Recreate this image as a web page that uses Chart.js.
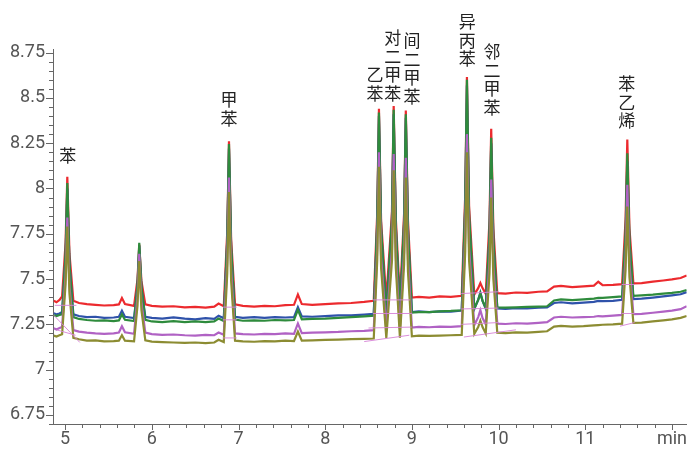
<!DOCTYPE html>
<html lang="zh">
<head>
  <meta charset="UTF-8">
  <meta name="viewport" content="width=device-width, initial-scale=1.0">
  <script src="https://cdn.jsdelivr.net/npm/chart.js@4.4.1/dist/chart.umd.min.js"></script>
  <title>色谱图</title>
  <style>
    html, body { margin: 0; padding: 0; background: #fff; }
    #wrap { width: 692px; height: 451px; }
  </style>
</head>
<body>
  <div id="wrap"><canvas id="chrom"></canvas></div>
  <script>
    // retention time (min), shared by all five traces
    const times = [
      4.87, 4.90, 4.935, 4.965, 5.005, 5.025, 5.05, 5.095, 5.16, 5.25,
      5.35, 5.45, 5.56, 5.62, 5.655, 5.69, 5.795, 5.835, 5.855, 5.88,
      5.925, 6.0, 6.12, 6.25, 6.38, 6.5, 6.62, 6.72, 6.77, 6.83,
      6.87, 6.89, 6.915, 6.96, 7.05, 7.18, 7.3, 7.42, 7.54, 7.64,
      7.685, 7.73, 7.85, 8.0, 8.15, 8.3, 8.45, 8.56, 8.60, 8.62,
      8.645, 8.705, 8.77, 8.79, 8.815, 8.862, 8.91, 8.93, 8.955, 9.0,
      9.08, 9.2, 9.32, 9.45, 9.575, 9.615, 9.635, 9.66, 9.72, 9.765,
      9.79, 9.815, 9.852, 9.895, 9.915, 9.94, 9.985, 10.08, 10.2, 10.33,
      10.46, 10.56, 10.64, 10.72, 10.85, 10.98, 11.1, 11.15, 11.2, 11.32,
      11.425, 11.465, 11.485, 11.51, 11.555, 11.65, 11.78, 11.9, 12.0, 12.1,
      12.17
    ]

    const redTrace = [
      7.380, 7.372, 7.385, 7.405, 7.70, 8.065, 7.64, 7.380, 7.368, 7.362,
      7.358, 7.354, 7.356, 7.360, 7.395, 7.362, 7.352, 7.50, 7.690, 7.49,
      7.360, 7.352, 7.348, 7.350, 7.344, 7.346, 7.342, 7.348, 7.365, 7.350,
      7.76, 8.260, 7.72, 7.360, 7.352, 7.348, 7.352, 7.350, 7.356, 7.358,
      7.415, 7.362, 7.358, 7.362, 7.366, 7.368, 7.374, 7.380, 7.86, 8.440,
      7.82, 7.385, 7.87, 8.455, 7.83, 7.388, 7.86, 8.430, 7.82, 7.398,
      7.402, 7.398, 7.404, 7.402, 7.408, 7.96, 8.615, 7.90, 7.415, 7.45,
      7.478, 7.45, 7.418, 7.82, 8.330, 7.78, 7.422, 7.420, 7.426, 7.424,
      7.430, 7.432, 7.458, 7.462, 7.456, 7.460, 7.464, 7.485, 7.466, 7.468,
      7.472, 7.83, 8.270, 7.78, 7.476, 7.478, 7.486, 7.492, 7.498, 7.506,
      7.520
    ]

    const blueTrace = [
      7.312, 7.305, 7.310, 7.318, 7.62, 8.000, 7.58, 7.305, 7.296, 7.290,
      7.292, 7.286, 7.288, 7.292, 7.325, 7.292, 7.285, 7.46, 7.685, 7.45,
      7.292, 7.286, 7.282, 7.288, 7.282, 7.278, 7.284, 7.280, 7.298, 7.284,
      7.71, 8.220, 7.66, 7.292, 7.286, 7.290, 7.286, 7.290, 7.288, 7.290,
      7.345, 7.294, 7.292, 7.296, 7.300, 7.300, 7.304, 7.308, 7.80, 8.400,
      7.77, 7.310, 7.81, 8.410, 7.78, 7.312, 7.80, 8.390, 7.76, 7.318,
      7.322, 7.318, 7.322, 7.320, 7.326, 7.89, 8.570, 7.83, 7.335, 7.385,
      7.425, 7.38, 7.336, 7.73, 8.250, 7.70, 7.338, 7.336, 7.340, 7.338,
      7.342, 7.344, 7.368, 7.372, 7.366, 7.370, 7.374, 7.380, 7.378, 7.380,
      7.386, 7.72, 8.150, 7.69, 7.390, 7.392, 7.398, 7.404, 7.410, 7.416,
      7.428
    ]

    const greenTrace = [
      7.300, 7.296, 7.302, 7.305, 7.64, 8.030, 7.58, 7.290, 7.280, 7.274,
      7.270, 7.272, 7.268, 7.272, 7.305, 7.275, 7.268, 7.47, 7.700, 7.46,
      7.275, 7.266, 7.262, 7.268, 7.262, 7.266, 7.262, 7.266, 7.282, 7.268,
      7.72, 8.245, 7.68, 7.276, 7.270, 7.272, 7.270, 7.274, 7.272, 7.274,
      7.330, 7.278, 7.280, 7.282, 7.286, 7.290, 7.294, 7.298, 7.82, 8.420,
      7.78, 7.300, 7.83, 8.435, 7.79, 7.305, 7.82, 8.410, 7.78, 7.315,
      7.318, 7.318, 7.322, 7.324, 7.328, 7.91, 8.600, 7.85, 7.338, 7.385,
      7.422, 7.38, 7.340, 7.75, 8.280, 7.72, 7.344, 7.342, 7.344, 7.346,
      7.348, 7.350, 7.382, 7.388, 7.384, 7.388, 7.392, 7.396, 7.396, 7.400,
      7.404, 7.75, 8.195, 7.72, 7.408, 7.410, 7.414, 7.420, 7.424, 7.430,
      7.440
    ]

    const purpleTrace = [
      7.228, 7.222, 7.230, 7.236, 7.52, 7.840, 7.46, 7.218, 7.210, 7.204,
      7.200, 7.198, 7.200, 7.205, 7.240, 7.206, 7.198, 7.40, 7.640, 7.37,
      7.204, 7.196, 7.192, 7.194, 7.190, 7.188, 7.192, 7.190, 7.205, 7.192,
      7.60, 8.060, 7.55, 7.200, 7.196, 7.194, 7.198, 7.196, 7.200, 7.198,
      7.255, 7.202, 7.204, 7.206, 7.208, 7.212, 7.214, 7.218, 7.66, 8.200,
      7.62, 7.222, 7.66, 8.190, 7.62, 7.224, 7.65, 8.170, 7.61, 7.232,
      7.236, 7.234, 7.238, 7.236, 7.240, 7.73, 8.300, 7.67, 7.246, 7.29,
      7.328, 7.285, 7.250, 7.60, 8.050, 7.57, 7.254, 7.252, 7.256, 7.254,
      7.258, 7.262, 7.288, 7.292, 7.288, 7.290, 7.292, 7.296, 7.294, 7.298,
      7.302, 7.62, 8.020, 7.58, 7.306, 7.308, 7.314, 7.320, 7.326, 7.334,
      7.350
    ]

    const oliveTrace = [
      7.188, 7.183, 7.190, 7.196, 7.47, 7.790, 7.42, 7.176, 7.168, 7.160,
      7.162, 7.156, 7.158, 7.160, 7.190, 7.160, 7.156, 7.355, 7.600, 7.33,
      7.162, 7.155, 7.152, 7.150, 7.148, 7.150, 7.146, 7.150, 7.165, 7.152,
      7.53, 7.980, 7.49, 7.160, 7.156, 7.154, 7.158, 7.156, 7.160, 7.158,
      7.210, 7.160, 7.162, 7.164, 7.166, 7.168, 7.170, 7.172, 7.60, 8.120,
      7.56, 7.175, 7.60, 8.100, 7.56, 7.176, 7.58, 8.060, 7.54, 7.184,
      7.188, 7.186, 7.188, 7.190, 7.192, 7.65, 8.200, 7.60, 7.198, 7.235,
      7.270, 7.235, 7.200, 7.53, 7.950, 7.50, 7.204, 7.202, 7.206, 7.204,
      7.208, 7.212, 7.238, 7.242, 7.238, 7.240, 7.244, 7.246, 7.248, 7.250,
      7.254, 7.55, 7.900, 7.51, 7.258, 7.260, 7.266, 7.272, 7.278, 7.286,
      7.296
    ]

    // integration baselines (null = break between segments)
    const baseX = [
      4.88, 5.13, null, 4.87, 5.17, null, 4.90, 5.12, null,
      6.82, 6.98, null, 6.82, 6.98, null, 6.82, 6.98, null,
      8.55, 8.98, null, 8.55, 9.00, null, 8.50, 9.00, null, 8.45, 8.97, null,
      9.57, 10.0, null, 9.57, 10.0, null, 9.57, 10.0, null, 9.60, 10.2, null,
      11.42, 11.57, null, 11.42, 11.57, null, 11.40, 11.57
    ]
    const baseY = [
      7.355, 7.355, null, 7.30, 7.15, null, 7.22, 7.19, null,
      7.345, 7.345, null, 7.275, 7.275, null, 7.175, 7.175, null,
      7.385, 7.385, null, 7.31, 7.31, null, 7.23, 7.235, null, 7.155, 7.19, null,
      7.42, 7.43, null, 7.335, 7.34, null, 7.25, 7.26, null, 7.18, 7.22, null,
      7.47, 7.47, null, 7.31, 7.31, null, 7.24, 7.26
    ]

    // peak names, written top to bottom above each peak
    const peakNames = ['苯', '甲苯', '乙苯', '对二甲苯', '间二甲苯', '异丙苯', '邻二甲苯', '苯乙烯']
    const peakLabelX = [5.03, 6.89, 8.575, 8.78, 9.0, 9.64, 9.925, 11.48]
    const peakLabelY = [8.184, 8.489, 8.627, 8.831, 8.815, 8.92, 8.754, 8.577]

    const xMin = 4.86, xMax = 12.17, xStep = 0.2
    const yMin = 6.7, yMax = 8.77, yStep = 0.05

    function pts(ys) {
      return times.map((t, i) => ({ x: t, y: ys[i] }))
    }

    function onStep(v, step) {
      return Math.abs(v / step - Math.round(v / step)) < 1e-6
    }

    const tickMarks = {
      id: 'tickMarks',
      afterDraw(chart) {
        const ctx = chart.ctx
        const xs = chart.scales.x, ys = chart.scales.y
        ctx.save()
        ctx.strokeStyle = '#666'
        ctx.lineWidth = 1
        ctx.beginPath()
        xs.ticks.forEach(t => {
          if (!onStep(t.value, xStep)) return
          const len = onStep(t.value, 1) ? 6 : 4
          const px = Math.round(xs.getPixelForValue(t.value)) + 0.5
          ctx.moveTo(px, chart.chartArea.bottom)
          ctx.lineTo(px, chart.chartArea.bottom + len)
        })
        ys.ticks.forEach(t => {
          if (!onStep(t.value, yStep)) return
          const len = onStep(t.value, 0.25) ? 7 : 4
          const py = Math.round(ys.getPixelForValue(t.value)) + 0.5
          ctx.moveTo(chart.chartArea.left, py)
          ctx.lineTo(chart.chartArea.left - len, py)
        })
        ctx.stroke()

        ctx.fillStyle = '#222'
        ctx.font = '17px "Noto Sans CJK SC"'
        ctx.textAlign = 'center'
        ctx.textBaseline = 'middle'
        peakNames.forEach((name, i) => {
          const px = xs.getPixelForValue(peakLabelX[i])
          const py = ys.getPixelForValue(peakLabelY[i])
          Array.from(name).forEach((ch, k) => ctx.fillText(ch, px, py + k * 18.5))
        })
        ctx.restore()
      }
    }

    function trace(data, color) {
      return {
        data: pts(data),
        borderColor: color,
        borderWidth: 2.2,
        pointRadius: 0,
        tension: 0,
        fill: false
      }
    }

    const ctx = document.getElementById('chrom').getContext('2d')
    const chart = new Chart(ctx, {
      type: 'line',
      data: {
        datasets: [
          {
            data: baseX.map((x, i) => ({ x: x, y: baseY[i] })),
            borderColor: 'rgba(214, 130, 214, 0.9)',
            borderWidth: 1,
            pointRadius: 0,
            spanGaps: false,
            fill: false
          },
          trace(oliveTrace, '#8c8c32'),
          trace(purpleTrace, '#b062c4'),
          trace(greenTrace, '#2e8b3c'),
          trace(blueTrace, '#2f52aa'),
          trace(redTrace, '#ec2a2e')
        ]
      },
      options: {
        responsive: true,
        maintainAspectRatio: false,
        animation: false,
        layout: { padding: { top: 49, left: 0, right: 0, bottom: 0 } },
        plugins: { legend: { display: false }, tooltip: { enabled: false } },
        scales: {
          x: {
            type: 'linear',
            min: xMin,
            max: xMax,
            afterFit: s => { s.height = 27 },
            border: { color: '#666', width: 1 },
            grid: { display: false, drawTicks: false },
            ticks: {
              stepSize: xStep,
              includeBounds: false,
              autoSkip: false,
              maxRotation: 0,
              padding: 5,
              color: '#555',
              font: { family: 'Roboto', size: 18 },
              callback: v => {
                if (!onStep(v, 1)) return ''
                const n = Math.round(v)
                return n === 12 ? 'min' : String(n)
              }
            }
          },
          y: {
            min: yMin,
            max: yMax,
            afterFit: s => { s.width = 53 },
            border: { color: '#666', width: 1 },
            grid: { display: false, drawTicks: false },
            ticks: {
              stepSize: yStep,
              includeBounds: false,
              autoSkip: false,
              padding: 8,
              color: '#555',
              font: { family: 'Roboto', size: 18 },
              callback: v => onStep(v, 0.25) ? String(parseFloat(v.toFixed(2))) : ''
            }
          }
        }
      },
      plugins: [tickMarks]
    })
  </script>
</body>
</html>
